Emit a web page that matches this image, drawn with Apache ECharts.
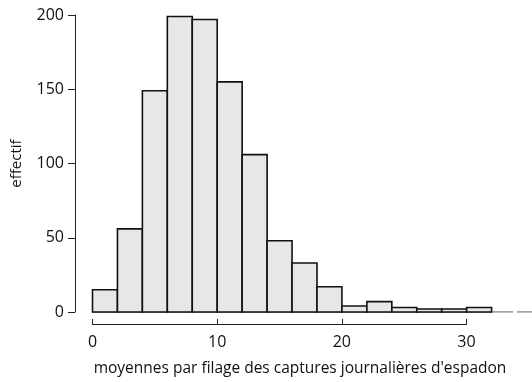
<!DOCTYPE html>
<html>
<head>
<meta charset="utf-8">
<script src="https://cdn.jsdelivr.net/npm/echarts@6/dist/echarts.min.js"></script>
<style>html,body{margin:0;padding:0;background:#fff}#c{width:532px;height:382px}</style>
</head>
<body>
<div id="c"></div>
<script>
// Histogram bins (width 2) and counts
const binStarts = [0, 2, 4, 6, 8, 10, 12, 14, 16, 18, 20, 22, 24, 26, 28, 30];
const binWidth = 2;
const counts = [15, 56, 149, 199, 197, 155, 106, 48, 33, 17, 4, 7, 3, 2, 2, 3];
const yTicks = [0, 50, 100, 150, 200];
const xTicks = [0, 10, 20, 30];

const font = '"Open Sans", Lato, sans-serif';
const chart = echarts.init(document.getElementById('c'));

const barData = binStarts.map((s, i) => [s, s + binWidth, counts[i]]);

chart.setOption({
  animation: false,
  grid: [
    { left: 92.5, right: 0, top: 15, height: 297 },
    { left: 92.5, width: 374, top: 15, height: 297 }
  ],
  xAxis: [
    { type: 'value', gridIndex: 0, min: 0, max: 35.24, show: false },
    {
      type: 'value', gridIndex: 1, min: xTicks[0], max: xTicks[xTicks.length - 1], interval: 10,
      offset: 12, position: 'bottom',
      name: 'moyennes par filage des captures journalières d\'espadon',
      nameLocation: 'middle', nameGap: 37,
      nameTextStyle: { color: '#111', fontSize: 15.5, fontFamily: font, padding: [0, 0, 0, 41] },
      axisLine: { show: true, onZero: false, lineStyle: { color: '#222', width: 1 } },
      axisTick: { show: true, inside: true, length: 5, lineStyle: { color: '#222', width: 1 } },
      axisLabel: { color: '#111', fontSize: 16, fontFamily: font, margin: 10 },
      splitLine: { show: false }
    }
  ],
  yAxis: [
    {
      type: 'value', gridIndex: 0, min: yTicks[0], max: yTicks[yTicks.length - 1], interval: 50,
      offset: 17.5,
      name: 'effectif', nameLocation: 'middle', nameGap: 51, nameRotate: 90,
      nameTextStyle: { color: '#111', fontSize: 15, fontFamily: font },
      axisLine: { show: true, onZero: false, lineStyle: { color: '#222', width: 1 } },
      axisTick: { show: true, length: 7, lineStyle: { color: '#222', width: 1 } },
      axisLabel: { color: '#111', fontSize: 16, fontFamily: font, margin: 11 },
      splitLine: { show: false }
    },
    { type: 'value', gridIndex: 1, min: 0, max: 200, show: false }
  ],
  series: [
    {
      // baseline continuing past the last bin
      type: 'line', xAxisIndex: 0, yAxisIndex: 0, symbol: 'none', silent: true,
      data: [[0, 0], [33.72, 0], ['-', '-'], [34.04, 0], [35.24, 0]],
      connectNulls: false,
      lineStyle: { color: '#888', width: 1.5 },
      z: 1
    },
    {
      type: 'custom', xAxisIndex: 0, yAxisIndex: 0, z: 3,
      data: barData,
      renderItem: function (params, api) {
        const p0 = api.coord([api.value(0), api.value(2)]);
        const p1 = api.coord([api.value(1), 0]);
        return {
          type: 'rect',
          shape: { x: p0[0], y: p0[1], width: p1[0] - p0[0], height: p1[1] - p0[1] },
          style: { fill: '#e6e7e8', stroke: '#111', lineWidth: 1.6 }
        };
      }
    }
  ]
});
</script>
</body>
</html>
